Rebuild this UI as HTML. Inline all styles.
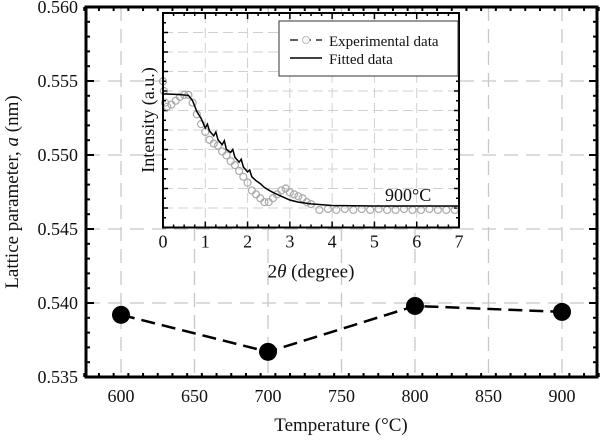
<!DOCTYPE html>
<html><head><meta charset="utf-8"><style>
body{margin:0;background:#fff}
svg text{font-family:"Liberation Serif",serif;fill:#111}
</style></head><body>
<svg id="c" width="600" height="437" viewBox="0 0 600 437"></svg>
<script>
// main data
const temps=[600,700,800,900];
const lattice=[0.5392,0.5367,0.5398,0.5394];
const xTicks=[600,650,700,750,800,850,900];
const yTicks=[0.535,0.540,0.545,0.550,0.555,0.560];
// inset data
const fitX=[0,0.3,0.6,0.7,0.8,0.9,1.0,1.05,1.1,1.2,1.25,1.3,1.4,1.45,1.5,1.6,1.65,1.7,1.8,1.85,1.9,2.0,2.05,2.1,2.2,2.3,2.4,2.5,2.6,2.8,3.0,3.2,3.5,4.0,5.0,6.0,7.0];
const fitY=[6.85,6.83,6.78,6.5,5.95,5.6,5.1,5.3,4.95,4.7,4.9,4.5,4.25,4.45,4.0,3.85,4.0,3.6,3.35,3.5,3.1,2.85,2.95,2.6,2.4,2.25,2.05,1.92,1.8,1.6,1.41,1.3,1.21,1.13,1.1,1.1,1.1];
const expX=[0,0.02,0.05,0.1,0.2,0.3,0.4,0.5,0.6,0.7,0.8,0.9,1.0,1.1,1.2,1.3,1.4,1.5,1.6,1.7,1.8,1.9,2.0,2.1,2.2,2.3,2.4,2.5,2.6,2.7,2.8,2.9,3.0,3.1,3.2,3.3,3.4,3.5,3.7,3.9,4.1,4.3,4.5,4.7,4.9,5.1,5.3,5.5,5.7,5.9,6.1,6.3,6.5,6.7,6.9];
const expY=[7.5,7.0,6.4,6.2,6.3,6.5,6.7,6.8,6.8,6.4,5.8,5.3,4.9,4.5,4.3,4.2,3.9,3.7,3.4,3.2,2.9,2.6,2.3,1.9,1.7,1.5,1.3,1.3,1.5,1.7,1.9,2.0,1.8,1.7,1.6,1.5,1.3,1.2,0.9,0.95,0.9,0.95,0.9,0.95,0.9,0.95,0.9,0.9,0.95,0.9,0.9,0.95,0.9,0.9,0.9];
const inXTicks=[0,1,2,3,4,5,6,7];

const NS="http://www.w3.org/2000/svg";
const svg=document.getElementById('c');
function mk(tag,attrs,parent){const e=document.createElementNS(NS,tag);for(const k in attrs)e.setAttribute(k,attrs[k]);(parent||svg).appendChild(e);return e;}

const L=86,R=597,T=7,B=377;
const xS=t=>415+(t-800)*1.47;
const yS=v=>B-(v-0.535)/0.025*(B-T);
for(const t of xTicks){const l=mk('line',{x1:xS(t),x2:xS(t),y1:T,y2:B,stroke:'#c8c8c8','stroke-width':1.3,'stroke-dasharray':'14,8'});
}
for(const v of yTicks){const l=mk('line',{x1:L,x2:R,y1:yS(v),y2:yS(v),stroke:'#c8c8c8','stroke-width':1.3,'stroke-dasharray':'14,8'});
}
for(let t=575;t<=925;t+=10){const maj=t%50===0;const l=mk('line',{x1:xS(t),x2:xS(t),y1:B,y2:B-(maj?8:4),stroke:'#000','stroke-width':2});

const l2=mk('line',{x1:xS(t),x2:xS(t),y1:T,y2:T+(maj?8:4),stroke:'#000','stroke-width':2});
}
for(let i=0;i<=25;i++){const v=0.535+i*0.001;const maj=i%5===0;
const l=mk('line',{x1:L,x2:L+(maj?8:4),y1:yS(v),y2:yS(v),stroke:'#000','stroke-width':2});

const l2=mk('line',{x1:R,x2:R-(maj?8:4),y1:yS(v),y2:yS(v),stroke:'#000','stroke-width':2});
}
for(const t of xTicks){const tx=mk('text',{x:xS(t),y:B+25,'text-anchor':'middle','font-size':18});tx.textContent=t;
}
for(const v of yTicks){const tx=mk('text',{x:L-8,y:yS(v)+6,'text-anchor':'end','font-size':18});tx.textContent=v.toFixed(3);
}
const pl=mk('polyline',{points:temps.map((t,i)=>xS(t)+','+yS(lattice[i])).join(' '),fill:'none',stroke:'#000','stroke-width':2.5,'stroke-dasharray':'14,7'});

temps.forEach((t,i)=>{const c=mk('circle',{cx:xS(t),cy:yS(lattice[i]),r:9,fill:'#000'});
});
const fr=mk('rect',{x:L,y:T,width:R-L,height:B-T,fill:'none',stroke:'#000','stroke-width':3});

const xt=mk('text',{x:341,y:431,'text-anchor':'middle','font-size':19});xt.textContent='Temperature (°C)';

const yt=mk('text',{x:0,y:0,'text-anchor':'middle','font-size':19,transform:'translate(18,192) rotate(-90)'});
yt.innerHTML='Lattice parameter, <tspan font-style="italic">a</tspan> (nm)';


const iL=163,iR=459,iT=13,iB=227.5;
const ix=v=>iL+v*(iR-iL)/7;
const iy=v=>iB-v*19.5;
const bg=mk('rect',{x:iL,y:iT,width:iR-iL,height:iB-iT,fill:'#fff'});

for(const t of inXTicks){const l=mk('line',{x1:ix(t),x2:ix(t),y1:iT,y2:iB,stroke:'#d0d0d0','stroke-width':1,'stroke-dasharray':'10,5'});
}
for(let k=1;k<11;k++){const l=mk('line',{x1:iL,x2:iR,y1:iy(k),y2:iy(k),stroke:'#d0d0d0','stroke-width':1,'stroke-dasharray':'10,5'});
}
for(let t=0;t<=7;t+=0.25){const l=mk('line',{x1:ix(t),x2:ix(t),y1:iB,y2:iB-(t%1===0?6:3),stroke:'#000','stroke-width':1.5});

const l2=mk('line',{x1:ix(t),x2:ix(t),y1:iT,y2:iT+(t%1===0?6:3),stroke:'#000','stroke-width':1.5});
}
for(let k=0;k<=22;k++){const l=mk('line',{x1:iL,x2:iL+(k%2===0?5:3),y1:iy(k/2),y2:iy(k/2),stroke:'#000','stroke-width':1.5});

const l2=mk('line',{x1:iR,x2:iR-(k%2===0?5:3),y1:iy(k/2),y2:iy(k/2),stroke:'#000','stroke-width':1.5});
}
expX.forEach((x,i)=>{const c=mk('circle',{cx:ix(x),cy:iy(expY[i]),r:3.5,fill:'none',stroke:'#aaa','stroke-width':1.2});
});
const fl=mk('polyline',{points:fitX.map((x,i)=>ix(x)+','+iy(fitY[i])).join(' '),fill:'none',stroke:'#000','stroke-width':1.5});

const ifr=mk('rect',{x:iL,y:iT,width:iR-iL,height:iB-iT,fill:'none',stroke:'#000','stroke-width':2});

for(const t of inXTicks){const tx=mk('text',{x:ix(t),y:iB+20,'text-anchor':'middle','font-size':18});tx.textContent=t;
}
const ixt=mk('text',{x:ix(3.5),y:iB+50,'text-anchor':'middle','font-size':19});
ixt.innerHTML='2<tspan font-style="italic">θ</tspan> (degree)';

const iyt=mk('text',{x:0,y:0,'text-anchor':'middle','font-size':18,transform:'translate(154,120) rotate(-90)'});
iyt.textContent='Intensity (a.u.)';

const lab=mk('text',{x:385,y:201,'text-anchor':'start','font-size':18});lab.textContent='900°C';

const lg=mk('g',{});
mk('rect',{x:279,y:21,width:179,height:55,fill:'#fff',stroke:'#333','stroke-width':1},lg);
mk('line',{x1:290,x2:322,y1:40,y2:40,stroke:'#000','stroke-width':1.3,'stroke-dasharray':'8,5'},lg);
mk('circle',{cx:306,cy:40,r:3.5,fill:'#fff',stroke:'#bbb'},lg);
mk('line',{x1:290,x2:322,y1:58,y2:58,stroke:'#000','stroke-width':1.5},lg);
const t1=mk('text',{x:329,y:46,'font-size':15},lg);t1.textContent='Experimental data';

const t2=mk('text',{x:329,y:64,'font-size':15},lg);t2.textContent='Fitted data';

</script>
</body></html>
